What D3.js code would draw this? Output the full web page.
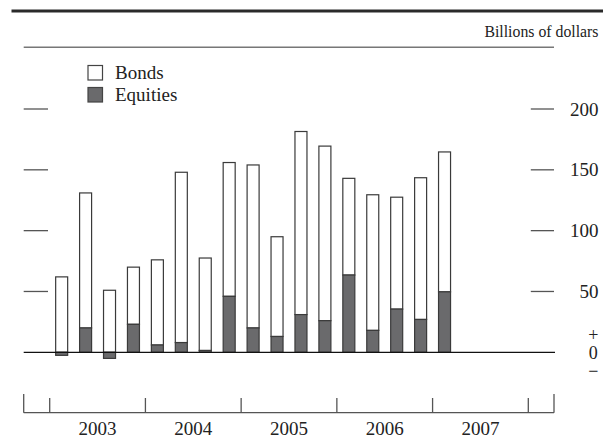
<!DOCTYPE html>
<html>
<head>
<meta charset="utf-8">
<script src="https://cdn.jsdelivr.net/npm/d3@7"></script>
<style>
  html, body { margin: 0; padding: 0; background: #fff; }
  svg { display: block; }
</style>
</head>
<body>
<svg id="chart" width="603" height="438"></svg>
<script>
// ---- data ----
const quarters = ["2003Q1","2003Q2","2003Q3","2003Q4","2004Q1","2004Q2","2004Q3","2004Q4",
                  "2005Q1","2005Q2","2005Q3","2005Q4","2006Q1","2006Q2","2006Q3","2006Q4","2007Q1"];
const bonds    = [62, 111, 51, 47, 70, 140, 76, 110, 134, 82, 150.5, 143.5, 79.5, 111.5, 92, 116.5, 115];
const equities = [-2.5, 20, -5, 23, 6, 8, 1.5, 46, 20, 13, 31, 26, 63.5, 18, 35.5, 27, 49.7];
const yearLabels = ["2003", "2004", "2005", "2006", "2007"];
const yTicks = [50, 100, 150, 200];
const seriesNames = ["Bonds", "Equities"];
const unitLabel = "Billions of dollars";
const zeroMark = "+0\u2212";

// ---- layout ----
const FONT = "'Liberation Serif', 'DejaVu Serif', 'Noto Serif', 'Times New Roman', Times, serif";
const svg = d3.select("#chart");
const left = 23.7, right = 554;
const equityColor = "#6a6a6c";
const strokeColor = "#3a3a3a";
const txt = (g) => g.append("text").attr("font-family", FONT).attr("fill", "#222");

const x = d3.scaleLinear().domain([2003, 2008]).range([49.7, 528.3]);
const y = d3.scaleLinear().domain([0, 200]).range([352.3, 109]);
const barW = 12;

// top rule
svg.append("line").attr("x1", 11.5).attr("x2", 603).attr("y1", 11).attr("y2", 11)
  .attr("stroke", "#2a2a2a").attr("stroke-width", 3);

// unit label
txt(svg).attr("x", 598.5).attr("y", 36.5).attr("text-anchor", "end")
  .attr("font-size", 15.8).text(unitLabel);

// thin top frame line
svg.append("line").attr("x1", left).attr("x2", right).attr("y1", 47.3).attr("y2", 47.3)
  .attr("stroke", "#777").attr("stroke-width", 1.4);

// legend
const legend = svg.append("g");
seriesNames.forEach((name, i) => {
  const gy = 65.5 + i * 22;
  legend.append("rect").attr("x", 88).attr("y", gy).attr("width", 14.5).attr("height", 14.5)
    .attr("fill", i === 0 ? "#fff" : equityColor).attr("stroke", "#444").attr("stroke-width", 1.2);
  txt(legend).attr("x", 115).attr("y", gy + 13).attr("font-size", 19).text(name);
});

// y ticks left & right
const tickG = svg.append("g");
tickG.selectAll("line.l").data(yTicks).join("line").attr("class", "l")
  .attr("x1", left).attr("x2", 48).attr("y1", d => y(d)).attr("y2", d => y(d))
  .attr("stroke", "#555").attr("stroke-width", 1.3);
tickG.selectAll("line.r").data(yTicks).join("line").attr("class", "r")
  .attr("x1", 530.8).attr("x2", right).attr("y1", d => y(d)).attr("y2", d => y(d))
  .attr("stroke", "#555").attr("stroke-width", 1.3);
tickG.selectAll("text.r").data(yTicks).join("text").attr("class", "r")
  .attr("font-family", FONT).attr("fill", "#222")
  .attr("x", 598.5).attr("y", d => y(d)).attr("dy", "0.35em").attr("text-anchor", "end")
  .attr("font-size", 19).text(d => d3.format("d")(d));

// + 0 − stacked vertically in one text
txt(svg).attr("x", 593.3).attr("y", y(0))
  .attr("text-anchor", "middle")
  .style("writing-mode", "vertical-rl")
  .style("text-orientation", "upright")
  .style("letter-spacing", "-2px")
  .attr("font-size", 18).text(zeroMark);

// bars
const data = quarters.map((q, i) => {
  const yr = +q.slice(0, 4), qi = +q.slice(5) - 1;
  const e = equities[i], b = bonds[i];
  return { cx: x(yr + (qi + 0.5) / 4), e, b, base: Math.max(e, 0) };
});
const barsG = svg.append("g");
barsG.selectAll("rect.bond").data(data).join("rect").attr("class", "bond")
  .attr("x", d => d.cx - barW / 2).attr("width", barW)
  .attr("y", d => y(d.base + d.b)).attr("height", d => y(d.base) - y(d.base + d.b))
  .attr("fill", "#fff").attr("stroke", strokeColor).attr("stroke-width", 1.2);
barsG.selectAll("rect.eq").data(data).join("rect").attr("class", "eq")
  .attr("x", d => d.cx - barW / 2).attr("width", barW)
  .attr("y", d => y(Math.max(d.e, 0))).attr("height", d => Math.abs(y(d.e) - y(0)))
  .attr("fill", equityColor).attr("stroke", strokeColor).attr("stroke-width", 1.2);

// zero line
svg.append("line").attr("x1", left).attr("x2", 555).attr("y1", y(0)).attr("y2", y(0))
  .attr("stroke", "#111").attr("stroke-width", 1.3);

// bottom axis
const axisY = 412.7;
const axG = svg.append("g");
axG.append("line").attr("x1", left).attr("x2", right).attr("y1", axisY).attr("y2", axisY)
  .attr("stroke", "#555").attr("stroke-width", 1.3);
const yearTicks = d3.range(2003, 2009);
axG.selectAll("line.yt").data(yearTicks).join("line").attr("class", "yt")
  .attr("x1", d => x(d)).attr("x2", d => x(d)).attr("y1", 398).attr("y2", axisY)
  .attr("stroke", "#555").attr("stroke-width", 1.3);
axG.selectAll("line.et").data([left, right]).join("line").attr("class", "et")
  .attr("x1", d => d).attr("x2", d => d).attr("y1", 394).attr("y2", axisY)
  .attr("stroke", "#555").attr("stroke-width", 1.3);
axG.selectAll("text.yl").data(yearLabels).join("text").attr("class", "yl")
  .attr("font-family", FONT).attr("fill", "#222")
  .attr("x", d => x(+d + 0.5)).attr("y", 435).attr("text-anchor", "middle")
  .attr("font-size", 19).text(d => d);
</script>
</body>
</html>
